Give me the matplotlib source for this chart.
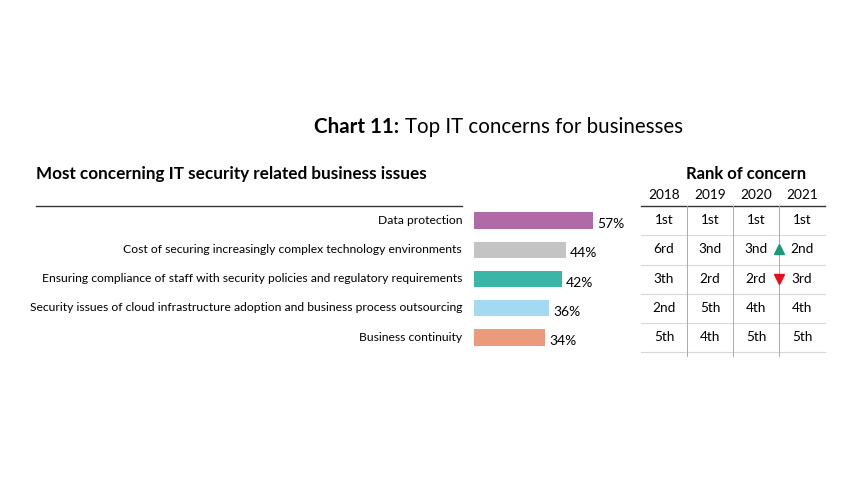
import matplotlib.pyplot as plt

plt.rcParams["font.family"] = ["Lato", "DejaVu Sans"]

issues = [
    "Data protection",
    "Cost of securing increasingly complex technology environments",
    "Ensuring compliance of staff with security policies and regulatory requirements",
    "Security issues of cloud infrastructure adoption and business process outsourcing",
    "Business continuity",
]
shares = [57, 44, 42, 36, 34]
colors = ["#b06aa8", "#c4c4c4", "#3bb5a5", "#a4d9f2", "#ec9a7c"]
years = ["2018", "2019", "2020", "2021"]
ranks = [
    ["1st", "1st", "1st", "1st"],
    ["6rd", "3nd", "3nd", "2nd"],
    ["3th", "2rd", "2rd", "3rd"],
    ["2nd", "5th", "4th", "4th"],
    ["5th", "4th", "5th", "5th"],
]
moves = {1: "up", 2: "down"}  # row index -> change in 2021

W, H = 864, 486
fig = plt.figure(figsize=(W / 100, H / 100), dpi=100)
bg = fig.add_axes([0, 0, 1, 1])
bg.set_xlim(0, W)
bg.set_ylim(H, 0)
bg.axis("off")

# title
t = bg.text(314, 127, "Chart 11:", fontsize=14.8, fontweight="bold", va="center")
fig.canvas.draw()
bb = t.get_window_extent()
bg.text(314 + bb.width + 6, 127, "Top IT concerns for businesses", fontsize=14.8, va="center")

bg.text(36, 174, "Most concerning IT security related business issues",
        fontsize=12.3, fontweight="bold", va="center")
bg.plot([36, 462], [206, 206], color="#333333", lw=1)
bg.text(746, 174, "Rank of concern", fontsize=12, fontweight="bold", va="center", ha="center")

# bars
top, bottom = 206, 352
bx = fig.add_axes([474 / W, 1 - bottom / H, 2.09 * 70 / W, (bottom - top) / H])
bx.set_xlim(0, 70)
bx.set_ylim(len(issues) - 0.5, -0.5)
bx.axis("off")
bx.barh(range(len(issues)), shares, height=0.56, color=colors)
for i, (lab, v) in enumerate(zip(issues, shares)):
    bx.text(v + 2, i + 0.12, f"{v}%", fontsize=10, va="center")
    bg.text(462, 220 + i * 29.25, lab, fontsize=8.7, va="center", ha="right")

# rank table
cols = [664, 710, 756, 802]
row_h = 29.25
bg.plot([641, 825], [206, 206], color="#333333", lw=1)
for k in range(1, 6):
    y = 206 + k * row_h
    bg.plot([641, 825], [y, y], color="#d8d8d8", lw=0.8)
for x in [687, 733, 779]:
    bg.plot([x, x], [206, 356], color="#aaaaaa", lw=0.7)
for c, yr in zip(cols, years):
    bg.text(c, 195, yr, fontsize=9.8, ha="center", va="center")
for i, row in enumerate(ranks):
    y = 220 + i * row_h
    for c, r in zip(cols, row):
        bg.text(c, y, r, fontsize=9.8, ha="center", va="center")
    if i in moves:
        if moves[i] == "up":
            bg.plot(779, y, marker="^", color="#1a9a7a", ms=7)
        else:
            bg.plot(779, y, marker="v", color="#e3101b", ms=7)

fig.savefig("out.png", dpi=100)
